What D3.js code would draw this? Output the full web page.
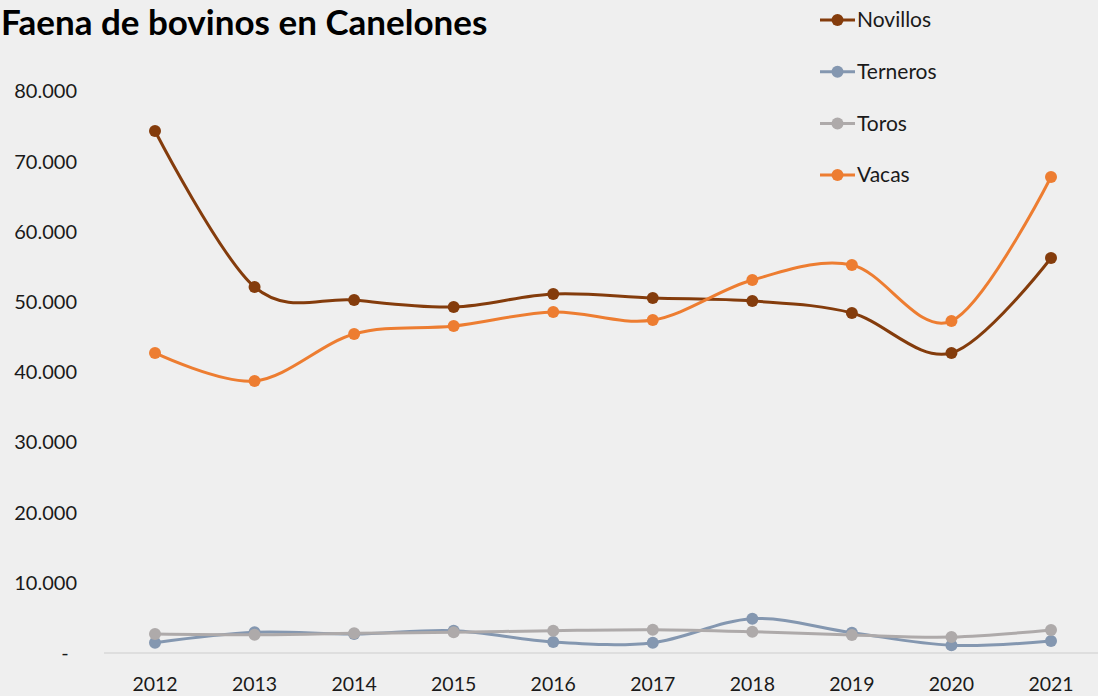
<!DOCTYPE html>
<html><head><meta charset="utf-8">
<script src="https://cdn.jsdelivr.net/npm/d3@7"></script>
<style>
html,body{margin:0;padding:0;background:#efefef;overflow:hidden}
svg{display:block;font-family:Lato,"Open Sans",sans-serif}
</style></head>
<body><svg id="c" width="1098" height="696"></svg>
<script>
const years = ["2012","2013","2014","2015","2016","2017","2018","2019","2020","2021"];
const novillos = [74360,52140,50280,49290,51140,50570,50140,48430,42740,56270];
const terneros = [1470,2950,2700,3180,1570,1470,4890,2900,1100,1710];
const toros    = [2700,2600,2800,2950,3180,3320,3030,2560,2280,3280];
const vacas    = [42740,38750,45440,46580,48580,47430,53130,55270,47290,67800];
const seriesNames = ["Novillos","Terneros","Toros","Vacas"];
const seriesColors = ["#843c0c","#8497b0","#aeaaaa","#ed7d31"];
const yTicks = [0,10000,20000,30000,40000,50000,60000,70000,80000];
const title = "Faena de bovinos en Canelones";

const series = [novillos, terneros, toros, vacas];
const svg = d3.select("#c");
const W = 1098, H = 696;
svg.append("rect").attr("width",W).attr("height",H).attr("fill","#efefef");

const x = d3.scalePoint().domain(years).range([155,1051]);
const y = d3.scaleLinear().domain([0,80000]).range([653,91.4]);

// baseline
svg.append("line").attr("x1",104).attr("x2",1101).attr("y1",y(0)).attr("y2",y(0))
  .attr("stroke","#d9d9d9").attr("stroke-width",1.5);

// y axis labels
const fmt = v => v===0 ? "-" : d3.format(",")(v).replace(/,/g,".");
svg.append("g").selectAll("text").data(yTicks).join("text")
  .attr("x", d => d===0 ? 65 : 77)
  .attr("y", d => y(d))
  .attr("dy","0.35em")
  .attr("text-anchor", d => d===0 ? "middle" : "end")
  .attr("font-size",20).attr("fill","#1a1a1a")
  .text(fmt);

// x axis labels
svg.append("g").selectAll("text").data(years).join("text")
  .attr("x", d => x(d)).attr("y", 684).attr("dy","0.35em")
  .attr("text-anchor","middle").attr("font-size",19.5).attr("fill","#1a1a1a")
  .text(d => d);

const line = d3.line().x((d,i)=>x(years[i])).y(d=>y(d)).curve(d3.curveCardinal.tension(0));

series.forEach((s,k) => {
  const g = svg.append("g");
  g.append("path").datum(s).attr("d",line).attr("fill","none")
    .attr("stroke",seriesColors[k]).attr("stroke-width",3).attr("stroke-linecap","round");
  g.selectAll("circle").data(s).join("circle")
    .attr("cx",(d,i)=>x(years[i])).attr("cy",d=>y(d)).attr("r",6)
    .attr("fill",seriesColors[k]);
});

// legend
const leg = svg.append("g");
seriesNames.forEach((n,k) => {
  const ly = 20 + k*51.7;
  leg.append("line").attr("x1",820).attr("x2",855).attr("y1",ly).attr("y2",ly)
    .attr("stroke",seriesColors[k]).attr("stroke-width",3);
  leg.append("circle").attr("cx",837.5).attr("cy",ly).attr("r",6).attr("fill",seriesColors[k]);
  leg.append("text").attr("x",857).attr("y",ly).attr("dy","0.35em")
    .attr("font-size",21).attr("fill","#1a1a1a").text(n);
});

// title
svg.append("text").attr("x",1).attr("y",35).attr("font-size",35).attr("font-weight","bold")
  .attr("fill","#000").text(title);
</script>
</body></html>
